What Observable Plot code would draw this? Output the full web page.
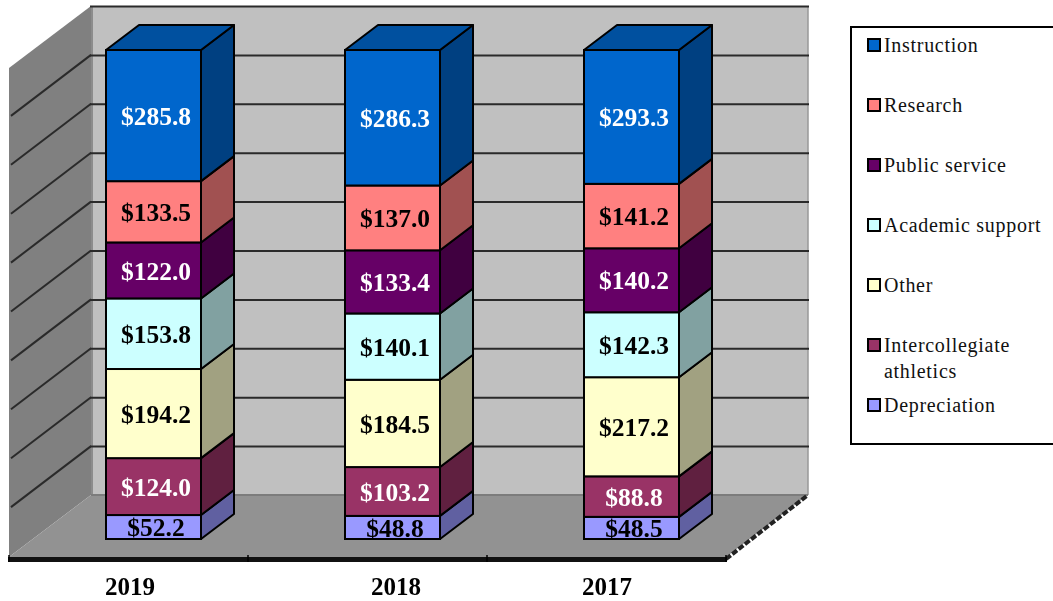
<!DOCTYPE html>
<html>
<head>
<meta charset="utf-8">
<script src="https://cdn.jsdelivr.net/npm/d3@7"></script>
<script src="https://cdn.jsdelivr.net/npm/@observablehq/plot@0.6"></script>
<style>
  html, body { margin: 0; padding: 0; background: #fff; overflow: hidden; }
  #page { display: flex; align-items: flex-start; width: 1053px; height: 601px; overflow: hidden; }
  #chart { flex: none; width: 845px; filter: blur(0.45px); }
  #chart svg { display: block; max-width: none; background: #fff; }
  #legend {
    flex: none; box-sizing: border-box; width: 209px; height: 419px;
    margin: 26px 0 0 5px; padding: 4px 0 0 15px;
    border: 2px solid #000; border-right: none;
    font: 20px/26px "Liberation Serif", serif; letter-spacing: 0.7px; color: #111;
  }
  .row { display: flex; align-items: flex-start; height: 60px; }
  .key { flex: none; box-sizing: border-box; width: 14px; height: 14px; margin: 6px 3px 0 0; border: 2px solid #000; }
</style>
</head>
<body>
<div id="page"><div id="chart"></div><div id="legend"></div></div>
<script>
const years = ["2019", "2018", "2017"];
const categories = ["Instruction", "Research", "Public service", "Academic support", "Other", "Intercollegiate athletics", "Depreciation"];
const colors = ["#0066CC", "#FF8080", "#660066", "#CCFFFF", "#FFFFCC", "#993366", "#9999FF"];
const labelColors = ["#fff", "#000", "#fff", "#000", "#000", "#fff", "#000"];

const instruction = [285.8, 286.3, 293.3];
const research = [133.5, 137.0, 141.2];
const publicService = [122.0, 133.4, 140.2];
const academicSupport = [153.8, 140.1, 142.3];
const other = [194.2, 184.5, 217.2];
const athletics = [124.0, 103.2, 88.8];
const depreciation = [52.2, 48.8, 48.5];
const seriesValues = [instruction, research, publicService, academicSupport, other, athletics, depreciation];

// Long table; depreciation is stacked first (bottom), instruction last (top).
const rows = [];
for (let c = categories.length - 1; c >= 0; c--) {
  years.forEach((year, i) => rows.push({ year, cat: categories[c], value: seriesValues[c][i], ink: labelColors[c] }));
}
const ticks = d3.range(0, 11).map(d => d / 10);

// 3-D projection (pixel offsets of the depth axis)
const wallDx = 82, wallDy = -62;   // floor front -> back wall
const barDx = 25, barDy = -18;     // floor front -> bar front face
const depthDx = 33, depthDy = -25; // bar front face -> bar back
const inset = 72;                  // gap between band edge and bar

const stack = { x: "year", y: "value", z: "cat", offset: "normalize" };

function poly(g, pts, fill, stroke, sw) {
  const p = g.append("polygon").attr("points", pts.map(d => d.join(",")).join(" ")).attr("fill", fill);
  if (stroke) p.attr("stroke", stroke).attr("stroke-width", sw).attr("stroke-linejoin", "round");
}

function room(index, { x, y }) {
  const g = d3.create("svg:g");
  const l = x(years[0]), r = x(years[years.length - 1]) + x.bandwidth();
  const b = y(0), t = y(1);
  poly(g, [[l + wallDx, t + wallDy], [r + wallDx, t + wallDy], [r + wallDx, b + wallDy], [l + wallDx, b + wallDy]], "#c0c0c0");
  poly(g, [[l, t], [l + wallDx, t + wallDy], [l + wallDx, b + wallDy], [l, b]], "#808080");
  poly(g, [[l, b], [l + wallDx, b + wallDy], [r + wallDx, b + wallDy], [r, b]], "#929292");
  const line = (x1, y1, x2, y2, stroke, w, dash) => g.append("line")
    .attr("x1", x1).attr("y1", y1).attr("x2", x2).attr("y2", y2)
    .attr("stroke", stroke).attr("stroke-width", w).attr("stroke-dasharray", dash || null);
  // wall gridlines continue on the side wall
  ticks.slice(1, -1).forEach(d => line(l + 2, y(d) - 1, l + wallDx, y(d) + wallDy, "#2a2a2a", 2));
  // wall edges
  line(l + wallDx + 1, t + wallDy, l + wallDx + 1, b + wallDy, "#8c8c8c", 2);
  line(r + wallDx, t + wallDy, r + wallDx, b + wallDy, "#999", 1.5);
  line(l + wallDx, b + wallDy, r + wallDx, b + wallDy, "#7c7c7c", 2);
  // jagged right edge of the floor
  line(r, b + 2, r + wallDx, b + wallDy, "#222", 4, "6 2");
  return g.node();
}

function axisTicks(index, { x, y }) {
  const g = d3.create("svg:g");
  const edges = years.map(d => x(d)).concat(x(years[years.length - 1]) + x.bandwidth());
  edges.forEach(e => g.append("line").attr("x1", e).attr("x2", e)
    .attr("y1", y(0) - 2).attr("y2", y(0) + 5).attr("stroke", "#000").attr("stroke-width", 1.5));
  return g.node();
}

// Side and top faces of every bar segment, from the scaled stack values.
function faces(index, scales, v) {
  const g = d3.create("svg:g");
  const bw = scales.x.bandwidth();
  for (const i of index) {
    const x1 = v.x[i] + inset + barDx, x2 = v.x[i] + bw - inset + barDx;
    const yb = v.y1[i] + barDy, yt = v.y2[i] + barDy;
    const c = d3.rgb(v.fill[i]);
    const shade = k => d3.rgb(c.r * k, c.g * k, c.b * k).formatHex();
    poly(g, [[x2, yb], [x2 + depthDx, yb + depthDy], [x2 + depthDx, yt + depthDy], [x2, yt]], shade(0.63), "#000", 2);
    if (rows[i].cat === categories[0]) {
      poly(g, [[x1, yt], [x1 + depthDx, yt + depthDy], [x2 + depthDx, yt + depthDy], [x2, yt]], shade(0.78), "#000", 2);
    }
  }
  return g.node();
}

const yearNudge = { "2019": 1, "2018": 28, "2017": 0 };

const chart = Plot.plot({
  width: 845,
  height: 601,
  marginLeft: 8,
  marginRight: 118,
  marginTop: 0,
  marginBottom: 0,
  x: { domain: years, range: [8, 727], padding: 0, axis: null },
  y: { domain: [0, 1], range: [557, 68], axis: null },
  color: { domain: categories, range: colors },
  marks: [
    room,
    Plot.ruleY(ticks.slice(1), { dx: wallDx, dy: wallDy, stroke: "#2a2a2a", strokeWidth: 2 }),
    Plot.barY(rows, { ...stack, fill: "cat", render: faces }),
    Plot.barY(rows, { ...stack, fill: "cat", stroke: "#000", strokeWidth: 2, insetLeft: inset, insetRight: inset, dx: barDx, dy: barDy }),
    Plot.text(rows, Plot.stackY({
      ...stack,
      text: d => "$" + d.value.toFixed(1),
      fill: "ink",
      dx: barDx + 2, dy: barDy + 0.5,
      fontFamily: "Liberation Serif", fontWeight: "bold", fontSize: 25.5
    })),
    Plot.ruleY([0], { dy: 2, stroke: "#111", strokeWidth: 5 }),
    axisTicks,
    ...years.map(yr => Plot.text([yr], {
      x: d => d, y: () => 0, dx: yearNudge[yr], dy: 29, text: d => d,
      fontFamily: "Liberation Serif", fontWeight: "bold", fontSize: 25, fill: "#000"
    }))
  ]
});
document.getElementById("chart").append(chart);

const legend = d3.select("#legend");
categories.forEach((cat, i) => {
  const row = legend.append("div").attr("class", "row");
  row.append("div").attr("class", "key").style("background", colors[i]);
  row.append("div").text(cat);
});
</script>
</body>
</html>
